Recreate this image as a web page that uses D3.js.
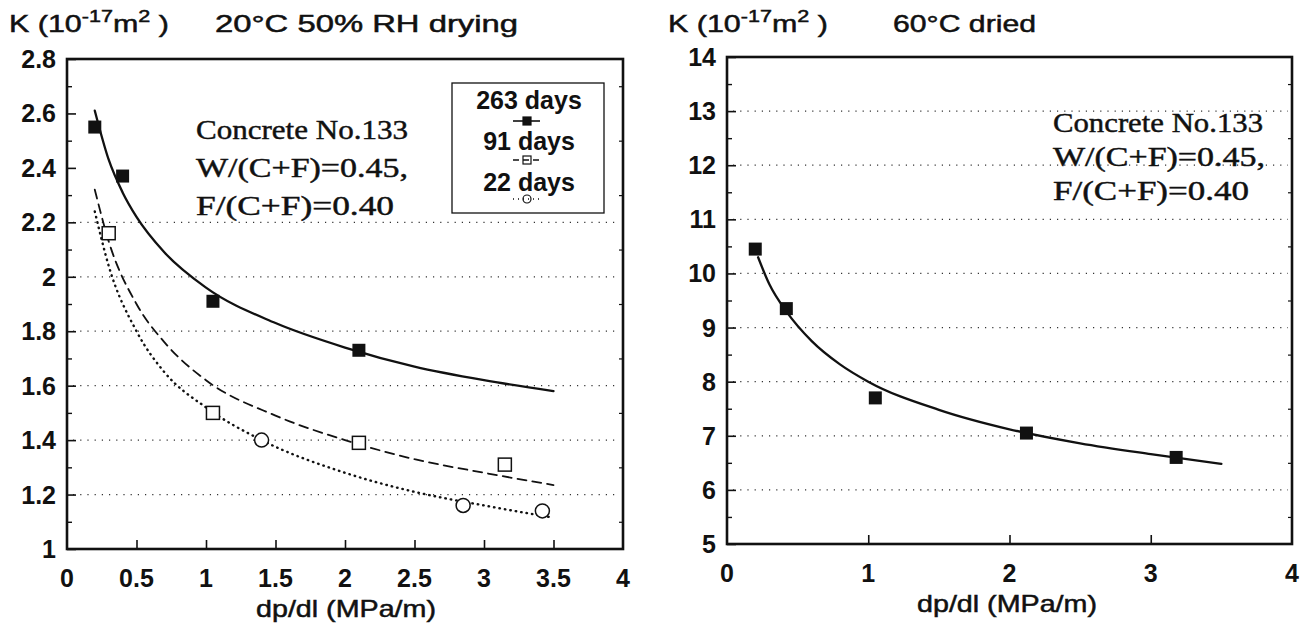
<!DOCTYPE html>
<html>
<head>
<meta charset="utf-8">
<script src="https://cdn.jsdelivr.net/npm/d3@7"></script>
<style>
  body { margin: 0; background: #fff; }
  svg { display: block; }
  .tick-label { font-family: "Liberation Sans", Arial, sans-serif; font-size: 25px; font-weight: bold; fill: #111; }
  .title { font-family: "Liberation Sans", Arial, sans-serif; font-size: 24px; fill: #111; stroke: #111; stroke-width: 0.5px; }
  .note { font-family: "Liberation Serif", "Times New Roman", serif; font-size: 27px; fill: #111; stroke: #111; stroke-width: 0.45px; }
</style>
</head>
<body>
<svg id="chart" width="1310" height="624"></svg>
<script>
// left panel: 20°C 50% RH drying
const leftXTicks = [0, 0.5, 1, 1.5, 2, 2.5, 3, 3.5, 4];
const leftXLabels = ["0", "0.5", "1", "1.5", "2", "2.5", "3", "3.5", "4"];
const leftYTicks = [1, 1.2, 1.4, 1.6, 1.8, 2, 2.2, 2.4, 2.6, 2.8];
const leftYLabels = ["1", "1.2", "1.4", "1.6", "1.8", "2", "2.2", "2.4", "2.6", "2.8"];
const leftGrid = [1.2, 1.4, 1.6, 1.8, 2, 2.2];

const days263X = [0.2, 0.4, 1.05, 2.1];
const days263K = [2.55, 2.37, 1.91, 1.73];
const days91X = [0.3, 1.05, 2.1, 3.15];
const days91K = [2.16, 1.50, 1.39, 1.31];
const days22X = [1.4, 2.85, 3.42];
const days22K = [1.40, 1.16, 1.14];

// fitted curves
const fit263X = [0.2, 0.3, 0.4, 0.5, 0.7, 1.0, 1.5, 2.0, 2.5, 3.0, 3.5];
const fit263K = [2.61, 2.43, 2.31, 2.22, 2.09, 1.96, 1.83, 1.74, 1.67, 1.62, 1.58];
const fit91X = [0.2, 0.3, 0.5, 0.7, 1.0, 1.5, 2.0, 2.5, 3.0, 3.5];
const fit91K = [2.32, 2.13, 1.90, 1.76, 1.62, 1.49, 1.40, 1.33, 1.28, 1.235];
const fit22X = [0.2, 0.3, 0.5, 0.7, 1.0, 1.4, 2.0, 2.5, 3.0, 3.5];
const fit22K = [2.24, 2.04, 1.80, 1.65, 1.52, 1.40, 1.28, 1.21, 1.16, 1.115];

const legendLabels = ["263 days", "91 days", "22 days"];

// right panel: 60°C dried
const rightXTicks = [0, 1, 2, 3, 4];
const rightXLabels = ["0", "1", "2", "3", "4"];
const rightYTicks = [5, 6, 7, 8, 9, 10, 11, 12, 13, 14];
const rightYLabels = ["5", "6", "7", "8", "9", "10", "11", "12", "13", "14"];
const rightGrid = [6, 7, 8, 9, 10, 11, 12, 13];

const dried60X = [0.2, 0.42, 1.05, 2.12, 3.18];
const dried60K = [10.45, 9.35, 7.7, 7.05, 6.6];
const fit60X = [0.22, 0.3, 0.42, 0.6, 0.8, 1.0, 1.5, 2.0, 2.5, 3.0, 3.5];
const fit60K = [10.3, 9.8, 9.3, 8.75, 8.32, 8.0, 7.48, 7.12, 6.86, 6.66, 6.48];

const noteLines = ["Concrete No.133", "W/(C+F)=0.45,", "F/(C+F)=0.40"];

const svg = d3.select("#chart");

function zip(xs, ys) {
  return xs.map((x, i) => ({ x: x, y: ys[i] }));
}

function drawPanel(cfg) {
  const g = svg.append("g");
  const x = d3.scaleLinear().domain(cfg.xDomain).range([cfg.left, cfg.right]);
  const y = d3.scaleLinear().domain(cfg.yDomain).range([cfg.bottom, cfg.top]);

  // dotted grid
  g.selectAll(".grid")
    .data(cfg.grid)
    .enter()
    .append("line")
    .attr("x1", cfg.left + 6)
    .attr("x2", cfg.right - 4)
    .attr("y1", d => y(d))
    .attr("y2", d => y(d))
    .attr("stroke", "#333")
    .attr("stroke-width", 1.2)
    .attr("stroke-dasharray", "1.2,6");

  // y axis: major + minor ticks drawn inward
  g.append("g")
    .attr("transform", `translate(${cfg.left},0)`)
    .call(d3.axisRight(y).tickValues(cfg.yTicks).tickSize(9).tickFormat(""))
    .call(s => s.select(".domain").remove())
    .selectAll("line").attr("stroke", "#111").attr("stroke-width", 1.6);

  g.append("g")
    .attr("transform", `translate(${cfg.left},0)`)
    .call(d3.axisRight(y).tickValues(cfg.yMinor).tickSize(5).tickFormat(""))
    .call(s => s.select(".domain").remove())
    .selectAll("line").attr("stroke", "#111").attr("stroke-width", 1.4);

  g.append("g")
    .attr("transform", `translate(${cfg.right},0)`)
    .call(d3.axisLeft(y).tickValues(cfg.yMinor).tickSize(4).tickFormat(""))
    .call(s => s.select(".domain").remove())
    .selectAll("line").attr("stroke", "#111").attr("stroke-width", 1.2);

  // y labels
  g.selectAll(".ylab")
    .data(cfg.yTicks)
    .enter()
    .append("text")
    .attr("class", "tick-label")
    .attr("x", cfg.left - 11)
    .attr("y", d => y(d) + 9)
    .attr("text-anchor", "end")
    .text((d, i) => cfg.yLabels[i]);

  // x axis ticks drawn inward
  g.append("g")
    .attr("transform", `translate(0,${cfg.bottom})`)
    .call(d3.axisTop(x).tickValues(cfg.xTicks.slice(1, -1)).tickSize(9).tickFormat(""))
    .call(s => s.select(".domain").remove())
    .selectAll("line").attr("stroke", "#111").attr("stroke-width", 1.6);

  g.selectAll(".xlab")
    .data(cfg.xTicks)
    .enter()
    .append("text")
    .attr("class", "tick-label")
    .attr("x", d => x(d))
    .attr("y", cfg.bottom + 38)
    .attr("text-anchor", "middle")
    .text((d, i) => cfg.xLabels[i]);

  g.append("text")
    .attr("class", "title")
    .attr("x", cfg.xTitleX)
    .attr("y", cfg.bottom + 68)
    .attr("text-anchor", "middle")
    .attr("textLength", 180)
    .attr("lengthAdjust", "spacingAndGlyphs")
    .text("dp/dl (MPa/m)");

  // frame
  g.append("rect")
    .attr("x", cfg.left)
    .attr("y", cfg.top)
    .attr("width", cfg.right - cfg.left)
    .attr("height", cfg.bottom - cfg.top)
    .attr("fill", "none")
    .attr("stroke", "#111")
    .attr("stroke-width", 2.6);

  // y title with superscripts
  const t = g.append("text")
    .attr("class", "title")
    .attr("x", cfg.titleX)
    .attr("y", 32)
    .attr("textLength", 160)
    .attr("lengthAdjust", "spacingAndGlyphs");
  t.append("tspan").text("K (10");
  t.append("tspan").attr("dy", -10).attr("font-size", 17).text("-17");
  t.append("tspan").attr("dy", 10).text("m");
  t.append("tspan").attr("dy", -10).attr("font-size", 17).text("2");
  t.append("tspan").attr("dy", 10).text(" )");

  g.append("text")
    .attr("class", "title")
    .attr("x", cfg.captionX)
    .attr("y", 32)
    .attr("textLength", cfg.captionWidth)
    .attr("lengthAdjust", "spacingAndGlyphs")
    .text(cfg.caption);

  // annotation
  g.selectAll(".note")
    .data(noteLines)
    .enter()
    .append("text")
    .attr("class", "note")
    .attr("x", cfg.noteX)
    .attr("y", (d, i) => cfg.noteY + i * cfg.noteStep)
    .attr("textLength", (d, i) => cfg.noteWidths[i])
    .attr("lengthAdjust", "spacingAndGlyphs")
    .text(d => d);

  return { g, x, y };
}

function drawCurve(p, xs, ys, dash, width) {
  const line = d3.line()
    .x(d => p.x(d.x))
    .y(d => p.y(d.y))
    .curve(d3.curveMonotoneX);
  p.g.append("path")
    .datum(zip(xs, ys))
    .attr("d", line)
    .attr("fill", "none")
    .attr("stroke", "#111")
    .attr("stroke-width", width)
    .attr("stroke-linecap", "round")
    .attr("stroke-dasharray", dash);
}

function drawMarkers(p, xs, ys, kind) {
  const pts = p.g.selectAll(null).data(zip(xs, ys)).enter();
  if (kind === "filled") {
    pts.append("rect")
      .attr("x", d => p.x(d.x) - 6.5).attr("y", d => p.y(d.y) - 6.5)
      .attr("width", 13).attr("height", 13)
      .attr("fill", "#111");
  } else if (kind === "open") {
    pts.append("rect")
      .attr("x", d => p.x(d.x) - 6.5).attr("y", d => p.y(d.y) - 6.5)
      .attr("width", 13).attr("height", 13)
      .attr("fill", "#fff").attr("stroke", "#111").attr("stroke-width", 1.5);
  } else {
    pts.append("circle")
      .attr("cx", d => p.x(d.x)).attr("cy", d => p.y(d.y))
      .attr("r", 7)
      .attr("fill", "#fff").attr("stroke", "#111").attr("stroke-width", 1.5);
  }
}

// ---- left panel
const L = drawPanel({
  left: 67, right: 623, top: 59, bottom: 549,
  xDomain: [0, 4], yDomain: [1, 2.8],
  xTicks: leftXTicks, xLabels: leftXLabels,
  yTicks: leftYTicks, yLabels: leftYLabels,
  yMinor: d3.range(1.1, 2.8, 0.2),
  grid: leftGrid,
  titleX: 9, captionX: 215, caption: "20°C 50% RH drying", captionWidth: 303,
  xTitleX: 346,
  noteX: 196, noteY: 139, noteStep: 38, noteWidths: [212, 212, 198]
});

drawCurve(L, fit263X, fit263K, null, 2.3);
drawCurve(L, fit91X, fit91K, "9,6", 1.8);
drawCurve(L, fit22X, fit22K, "0.5,5", 2.4);
drawMarkers(L, days263X, days263K, "filled");
drawMarkers(L, days91X, days91K, "open");
drawMarkers(L, days22X, days22K, "circle");

// legend box
const legendG = L.g.append("g");
legendG.append("rect")
  .attr("x", 452).attr("y", 83).attr("width", 152).attr("height", 130)
  .attr("fill", "#fff").attr("stroke", "#111").attr("stroke-width", 1.3);
const legendStyles = [
  { dash: null, kind: "filled" },
  { dash: "6,4", kind: "open" },
  { dash: "1,4", kind: "circle" }
];
legendStyles.forEach((s, i) => {
  const cy = 121 + i * 39;
  legendG.append("line")
    .attr("x1", 513).attr("x2", 540).attr("y1", cy).attr("y2", cy)
    .attr("stroke", "#111").attr("stroke-width", 1.6)
    .attr("stroke-dasharray", s.dash);
  if (s.kind === "circle") {
    legendG.append("circle").attr("cx", 527).attr("cy", cy).attr("r", 4)
      .attr("fill", "none").attr("stroke", "#111").attr("stroke-width", 1.2);
  } else {
    legendG.append("rect").attr("x", 523).attr("y", cy - 4).attr("width", 8).attr("height", 8)
      .attr("fill", s.kind === "filled" ? "#111" : "none")
      .attr("stroke", "#111").attr("stroke-width", 1.2);
  }
});
legendG.selectAll("text")
  .data(legendLabels)
  .enter()
  .append("text")
  .attr("class", "tick-label")
  .attr("x", 529)
  .attr("y", (d, i) => 109 + i * 41)
  .attr("text-anchor", "middle")
  .style("font-size", "25px")
  .text(d => d);

// ---- right panel
const R = drawPanel({
  left: 727, right: 1292, top: 57, bottom: 544,
  xDomain: [0, 4], yDomain: [5, 14],
  xTicks: rightXTicks, xLabels: rightXLabels,
  yTicks: rightYTicks, yLabels: rightYLabels,
  yMinor: d3.range(5.5, 14, 1),
  grid: rightGrid,
  titleX: 668, captionX: 893, caption: "60°C dried", captionWidth: 143,
  xTitleX: 1007,
  noteX: 1053, noteY: 132, noteStep: 34, noteWidths: [210, 212, 196]
});

drawCurve(R, fit60X, fit60K, null, 2.3);
drawMarkers(R, dried60X, dried60K, "filled");
</script>
</body>
</html>
